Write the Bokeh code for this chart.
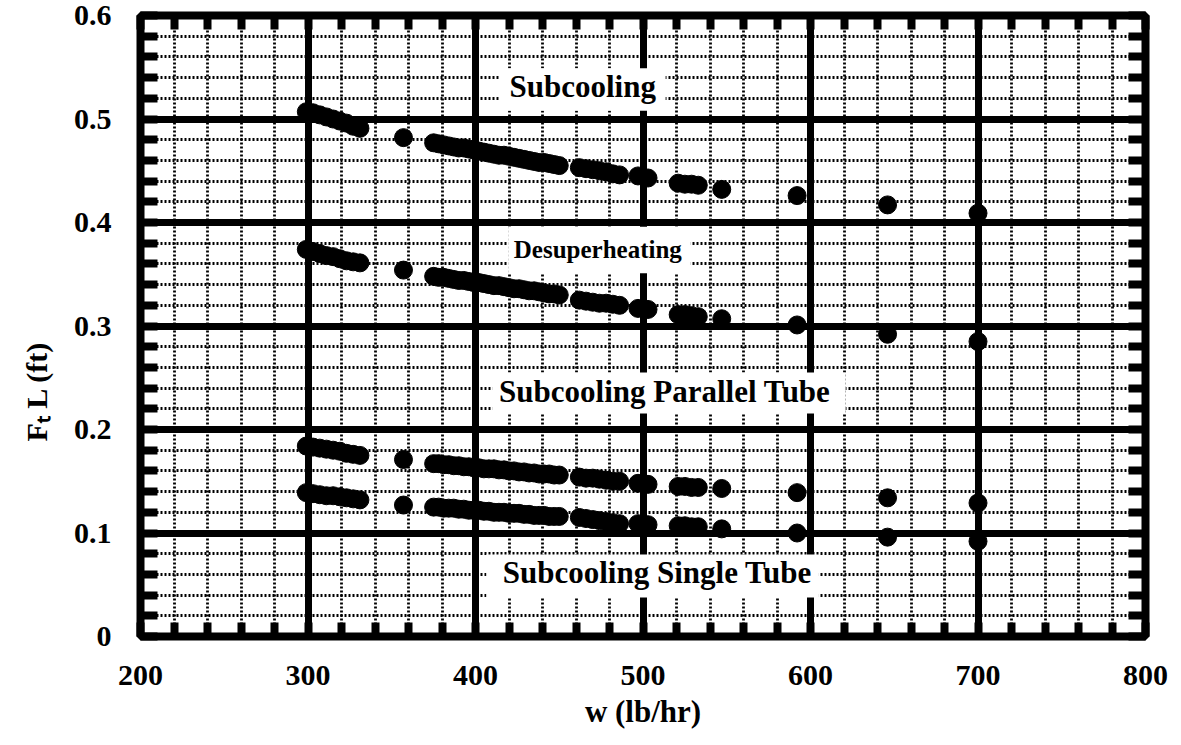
from bokeh.core.properties import value
from bokeh.embed import file_html
from bokeh.models import FixedTicker, LinearAxis, Range1d, Title
from bokeh.plotting import figure
from bokeh.resources import INLINE

# Refrigerant mass flow rate w (lb/hr), shared by all four series
W = [299, 303, 307, 311, 315, 319, 323, 327, 331,
     357,
     375, 378, 381, 384, 387, 390, 393, 396, 399, 402, 405, 408, 411,
     414, 417, 420, 423, 426, 429, 432, 435, 438, 441, 444, 447, 450,
     462, 466, 470, 474, 478, 482, 486,
     497, 503,
     521, 525, 529, 533,
     547, 592, 646, 700]

# F_t L (ft) for each heat-transfer region
SUBCOOLING = [0.507, 0.506, 0.504, 0.502, 0.500, 0.498, 0.496, 0.493, 0.491,
              0.482,
              0.477, 0.476, 0.475, 0.474, 0.473, 0.472, 0.472, 0.471, 0.470,
              0.469, 0.468, 0.467, 0.466, 0.465, 0.465, 0.464, 0.463, 0.462,
              0.461, 0.460, 0.459, 0.458, 0.458, 0.457, 0.456, 0.455,
              0.453, 0.452, 0.451, 0.450, 0.449, 0.447, 0.446,
              0.445, 0.443,
              0.438, 0.437, 0.437, 0.436,
              0.432, 0.426, 0.417, 0.409]

DESUPERHEATING = [0.374, 0.372, 0.370, 0.368, 0.367, 0.365, 0.363, 0.362, 0.361,
                  0.354,
                  0.348, 0.347, 0.347, 0.346, 0.345, 0.344, 0.344, 0.343, 0.342,
                  0.342, 0.341, 0.340, 0.339, 0.339, 0.338, 0.337, 0.336, 0.336,
                  0.335, 0.334, 0.334, 0.333, 0.332, 0.331, 0.331, 0.330,
                  0.325, 0.324, 0.323, 0.322, 0.322, 0.321, 0.320,
                  0.317, 0.316,
                  0.311, 0.311, 0.310, 0.309,
                  0.307, 0.301, 0.292, 0.285]

SUB_PARALLEL = [0.184, 0.183, 0.182, 0.181, 0.180, 0.179, 0.177, 0.176, 0.175,
                0.171,
                0.167, 0.167, 0.166, 0.166, 0.165, 0.165, 0.164, 0.164, 0.163,
                0.163, 0.162, 0.162, 0.162, 0.161, 0.161, 0.160, 0.160, 0.159,
                0.159, 0.158, 0.158, 0.157, 0.157, 0.157, 0.156, 0.156,
                0.154, 0.153, 0.153, 0.152, 0.151, 0.150, 0.150,
                0.148, 0.147,
                0.145, 0.145, 0.144, 0.144,
                0.143, 0.139, 0.134, 0.129]

SUB_SINGLE = [0.139, 0.138, 0.137, 0.136, 0.136, 0.135, 0.134, 0.133, 0.132,
              0.127,
              0.125, 0.125, 0.124, 0.124, 0.124, 0.123, 0.123, 0.122, 0.122,
              0.122, 0.121, 0.121, 0.120, 0.120, 0.120, 0.119, 0.119, 0.119,
              0.118, 0.118, 0.117, 0.117, 0.117, 0.116, 0.116, 0.116,
              0.115, 0.114, 0.113, 0.112, 0.111, 0.110, 0.109,
              0.109, 0.108,
              0.107, 0.107, 0.106, 0.106,
              0.104, 0.100, 0.096, 0.092]

X_TICKS = [200, 300, 400, 500, 600, 700, 800]
X_TICK_LABELS = ["200", "300", "400", "500", "600", "700", "800"]
Y_TICKS = [0, 0.1, 0.2, 0.3, 0.4, 0.5, 0.6]
Y_TICK_LABELS = ["0", "0.1", "0.2", "0.3", "0.4", "0.5", "0.6"]

REGION_NAMES = ["Subcooling", "Desuperheating",
                "Subcooling Parallel Tube", "Subcooling Single Tube"]

SERIF = "Liberation Serif"

x_minor = [200 + 20 * i for i in range(31)]
y_minor = [round(0.02 * i, 2) for i in range(31)]
x_ticker = FixedTicker(ticks=X_TICKS, minor_ticks=x_minor)
y_ticker = FixedTicker(ticks=Y_TICKS, minor_ticks=y_minor)
# top / right frame edges carry only the short inner ticks, no labels
x_edge_ticker = FixedTicker(ticks=[], minor_ticks=x_minor)
y_edge_ticker = FixedTicker(ticks=[], minor_ticks=y_minor)

p = figure(width=1181, height=745,
           x_range=Range1d(200, 800), y_range=Range1d(0, 0.6),
           output_backend="svg", toolbar_location=None,
           min_border_left=139, min_border_right=36,
           min_border_top=15, min_border_bottom=109,
           background_fill_color="white", border_fill_color="white")

p.outline_line_color = "black"
p.outline_line_width = 8
p.outline_line_alpha = 1.0

# heavy major grid, dotted minor grid
for grid, ticker in ((p.xgrid, x_ticker), (p.ygrid, y_ticker)):
    grid.ticker = ticker
    grid.grid_line_color = "black"
    grid.grid_line_width = 7
    grid.grid_line_alpha = 1.0
    grid.minor_grid_line_color = "black"
    grid.minor_grid_line_width = 2.8
    grid.minor_grid_line_dash = "2 2"


def style_axis(ax, ticker, tick_len):
    ax.ticker = ticker
    ax.axis_line_color = None
    ax.major_tick_in = 0
    ax.major_tick_out = 0
    ax.minor_tick_in = tick_len
    ax.minor_tick_out = 0
    ax.minor_tick_line_width = 8
    ax.minor_tick_line_color = "black"
    ax.major_label_text_font = SERIF
    ax.major_label_text_font_style = "bold"
    ax.major_label_text_color = "black"
    ax.major_label_text_font_size = "30px"


style_axis(p.xaxis[0], x_ticker, 14)
style_axis(p.yaxis[0], y_ticker, 17)
p.xaxis.major_label_overrides = dict(zip(X_TICKS, X_TICK_LABELS))
p.yaxis.major_label_overrides = dict(zip(Y_TICKS, Y_TICK_LABELS))
p.xaxis.major_label_standoff = 29
p.yaxis.major_label_standoff = 29

p.xaxis.axis_label = "w (lb/hr)"
p.xaxis.axis_label_text_font = SERIF
p.xaxis.axis_label_text_font_style = "bold"
p.xaxis.axis_label_text_font_size = "31px"
p.xaxis.axis_label_text_color = "black"
p.xaxis.axis_label_standoff = 6

top_axis = LinearAxis()
right_axis = LinearAxis()
style_axis(top_axis, x_edge_ticker, 14)
style_axis(right_axis, y_edge_ticker, 17)
p.add_layout(top_axis, "above")
p.add_layout(right_axis, "right")

# vertical axis title  F_t L (ft)
p.add_layout(Title(text="F\u209c L (ft)", align="left", offset=195,
                   standoff=35, text_font=SERIF, text_font_style="bold",
                   text_font_size="30px", text_color="black"), "left")

# white panels behind the region names
p.quad(left=[414, 419.5, 410, 406.5],
       right=[513.5, 528.5, 621, 605],
       bottom=[0.508, 0.351, 0.2155, 0.0377],
       top=[0.549, 0.396, 0.2551, 0.0792],
       fill_color="white", line_color=None)

# region name texts
name_x = [464, 473, 513, 508.5]
name_y = [0.531, 0.374, 0.2366, 0.0617]
name_size = ["31px", "25px", "31px", "31px"]
for nx, ny, name, size in zip(name_x, name_y, REGION_NAMES, name_size):
    p.text(x=[nx], y=[ny], text=[name], text_font=value(SERIF),
           text_font_style="bold", text_font_size=size, text_color="black",
           text_align="center", text_baseline="alphabetic")

for series in (SUBCOOLING, DESUPERHEATING, SUB_PARALLEL, SUB_SINGLE):
    p.scatter(W, series, size=18, marker="circle",
              fill_color="black", line_color="black")

open("out.html", "w").write(file_html(p, INLINE))
